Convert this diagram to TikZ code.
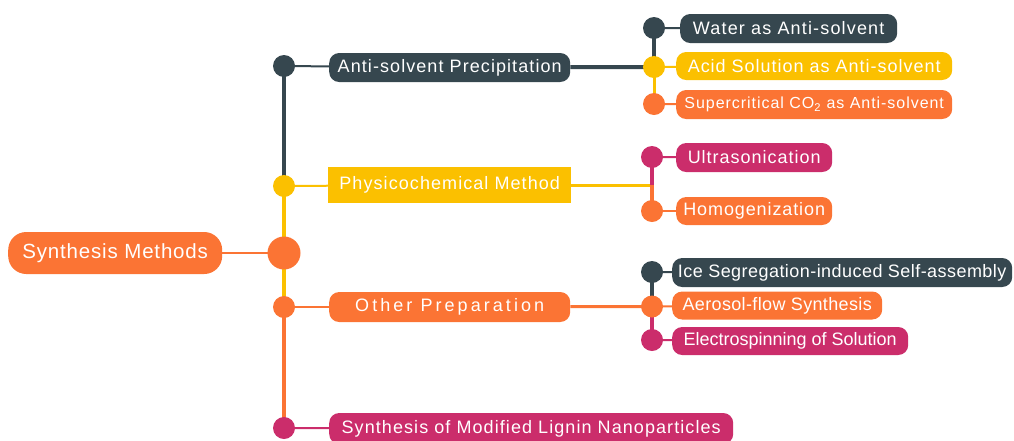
\documentclass[tikz,border=0pt]{standalone}
\usepackage{fontspec}
\setmainfont{Liberation Sans}
\usetikzlibrary{backgrounds}
\definecolor{cdark}{HTML}{36474F}
\definecolor{cyel}{HTML}{FBC000}
\definecolor{corg}{HTML}{FB7434}
\definecolor{cmag}{HTML}{CB2D6B}
\tikzset{
  pill/.style={rounded corners=10pt, text=white, inner sep=0pt, anchor=west},
  ls/.style 2 args={font=\fontsize{#1}{#1}\selectfont\addfontfeature{LetterSpace=#2}},
  dot/.style={circle, inner sep=0pt, minimum size=22pt},
  bigdot/.style={circle, inner sep=0pt, minimum size=33pt},
  thin/.style={line width=2pt},
  thick/.style={line width=4pt},
  mid/.style={line width=3pt}
}
\begin{document}
\begin{tikzpicture}[x=1pt,y=-1pt]
\useasboundingbox (0,0) rectangle (1014,440);
% root
\node[pill, fill=corg, rounded corners=18pt, minimum width=214, minimum height=42,
  ls={20.5}{4}] (root) at (8,253) {Synthesis Methods};
% trunk dots
\node[dot, fill=cdark] (t1) at (284,66) {};
\node[dot, fill=cyel] (t2) at (284,186) {};
\node[bigdot, fill=corg] (t0) at (284,253) {};
\node[dot, fill=corg] (t3) at (284,307) {};
\node[dot, fill=cmag] (t4) at (284,428) {};
% level 1
\node[pill, fill=cdark, minimum width=241, minimum height=29, ls={18}{6}] (anti) at (329,67.5) {Anti-solvent Precipitation};
\node[pill, fill=cyel, rounded corners=0pt, minimum width=243, minimum height=36, ls={18}{6}] (phys) at (328,185) {Physicochemical Method};
\node[pill, fill=corg, minimum width=241, minimum height=30, ls={18}{17}] (other) at (329,307) {Other Preparation};
\node[pill, fill=cmag, minimum width=404, minimum height=31, ls={18}{6}] (modi) at (329,428.5) {Synthesis of Modified Lignin Nanoparticles};
% branch 1
\node[dot, fill=cdark] (a1) at (654,28) {};
\node[dot, fill=cyel] (a0) at (654,67) {};
\node[dot, fill=corg] (a2) at (654,104) {};
\node[pill, fill=cdark, minimum width=217, minimum height=29, ls={18}{6.5}] (water) at (680,28.5) {Water as Anti-solvent};
\node[pill, fill=cyel, minimum width=276, minimum height=28, ls={18}{5.5}] (acid) at (676,66) {Acid Solution as Anti-solvent};
\node[pill, fill=corg, minimum width=276, minimum height=29, ls={16}{6}] (scco) at (676,104.5) {Supercritical CO\textsubscript{2} as Anti-solvent};
% branch 2
\coordinate (b0) at (652,185);
\node[dot, fill=cmag] (b1) at (652,157) {};
\node[dot, fill=corg] (b2) at (652,211) {};
\node[pill, fill=cmag, minimum width=156, minimum height=29, ls={18}{5.5}] (ultra) at (676,157.5) {Ultrasonication};
\node[pill, fill=corg, minimum width=156, minimum height=28, ls={18}{5}] (homo) at (676,211) {Homogenization};
% branch 3
\node[dot, fill=cdark] (c1) at (652,272) {};
\node[dot, fill=corg] (c0) at (652,306.5) {};
\node[dot, fill=cmag] (c2) at (652,340) {};
\node[pill, fill=cdark, minimum width=340, minimum height=29, ls={18}{2.5}] (ice) at (672,272.5) {Ice Segregation-induced Self-assembly};
\node[pill, fill=corg, minimum width=210, minimum height=28, ls={18}{2}] (aero) at (672,305.5) {Aerosol-flow Synthesis};
\node[pill, fill=cmag, minimum width=236, minimum height=28, ls={18}{0}] (elec) at (672,341) {Electrospinning of Solution};
% connectors
\begin{scope}[on background layer]
  \draw[thick, cdark] (t1.center) -- (t2.center);
  \draw[thick, cyel] (t2.center) -- (t0.center);
  \draw[thick, cyel] (t0.center) -- (t3.center);
  \draw[thick, corg] (t3.center) -- (t4.center);
  \draw[thin, corg] (root) -- (t0.center);
  \draw[thin, cdark] (t1.center) -- (anti);
  \draw[thin, cyel] (t2.center) -- (phys);
  \draw[thin, corg] (t3.center) -- (other);
  \draw[thin, cmag] (t4.center) -- (modi);
  % branch 1
  \draw[thick, cdark] (anti) -- (a0.center);
  \draw[thick, cdark] (a1.center) -- (a0.center);
  \draw[mid, cyel] (a0.center) -- (a2.center);
  \draw[thin, cdark] (a1.center) -- (water);
  \draw[thin, cyel] (a0.center) -- (acid);
  \draw[thin, corg] (a2.center) -- (scco);
  % branch 2
  \draw[mid, cyel] (phys) -- (b0);
  \draw[thick, cmag] (b1.center) -- (b0);
  \draw[thick, corg] (b0) -- (b2.center);
  \draw[thin, cmag] (b1.center) -- (ultra);
  \draw[thin, corg] (b2.center) -- (homo);
  % branch 3
  \draw[mid, corg] (other) -- (c0.center);
  \draw[thick, cdark] (c1.center) -- (c0.center);
  \draw[thick, cmag] (c0.center) -- (c2.center);
  \draw[thin, cdark] (c1.center) -- (ice);
  \draw[thin, corg] (c0.center) -- (aero);
  \draw[thin, cmag] (c2.center) -- (elec);
\end{scope}
\end{tikzpicture}
\end{document}
